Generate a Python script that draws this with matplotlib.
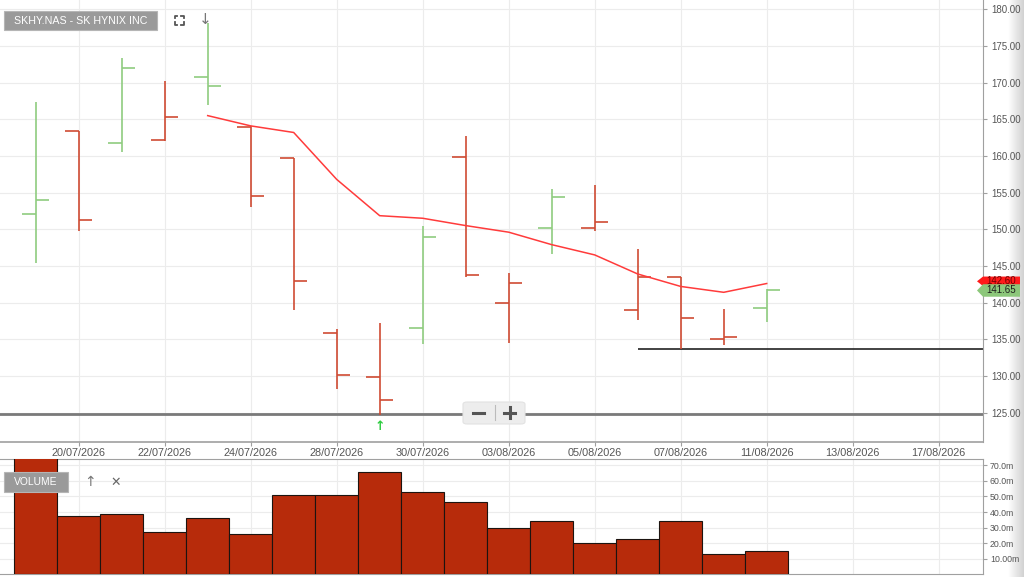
import matplotlib
matplotlib.use("Agg")
import matplotlib.pyplot as plt
from matplotlib.patches import Polygon, FancyBboxPatch
from matplotlib.lines import Line2D
import matplotlib.transforms as mtransforms
import numpy as np

plt.rcParams['font.family'] = ['Liberation Sans', 'DejaVu Sans']

# ---- data ----
dates = ["17/07/2026", "20/07/2026", "21/07/2026", "22/07/2026", "23/07/2026", "24/07/2026",
         "27/07/2026", "28/07/2026", "29/07/2026", "30/07/2026", "31/07/2026", "03/08/2026",
         "04/08/2026", "05/08/2026", "06/08/2026", "07/08/2026", "10/08/2026", "11/08/2026",
         "12/08/2026", "13/08/2026", "14/08/2026", "17/08/2026"]
opens  = [152.1, 163.45, 161.8, 162.2, 170.8, 163.95, 159.7, 135.9, 129.9, 136.5, 159.9, 139.9,
          150.2, 150.2, 139.0, 143.5, 135.0, 139.2]
highs  = [167.4, 163.45, 173.3, 170.2, 178.1, 164.1, 159.7, 136.4, 137.2, 150.4, 162.7, 144.1,
          155.5, 156.0, 147.3, 143.5, 139.1, 141.8]
lows   = [145.45, 149.8, 160.5, 162.0, 167.0, 153.0, 138.95, 128.2, 124.7, 134.4, 143.45, 134.45,
          146.6, 149.8, 137.6, 133.7, 134.2, 137.3]
closes = [154.0, 151.2, 172.0, 165.3, 169.5, 154.5, 143.0, 130.1, 126.7, 149.0, 143.7, 142.7,
          154.4, 151.0, 143.5, 137.9, 135.3, 141.65]
up_flags = [1, 0, 1, 0, 1, 0, 0, 0, 0, 1, 0, 0, 1, 0, 0, 0, 0, 1]
ma_start = 4
ma_values = [165.5, 164.1, 163.2, 156.8, 151.85, 151.5, 150.5, 149.6, 147.9, 146.5, 143.9,
             142.2, 141.4, 142.6]
volumes = [76.0, 37.4, 38.7, 27.1, 36.3, 25.9, 50.7, 50.7, 65.9, 52.7, 46.4, 29.5, 34.2,
           20.1, 22.6, 34.2, 13.2, 14.9]
support_level = 133.65
support_start = 14
low_level = 124.75
price_ticks = [125, 130, 135, 140, 145, 150, 155, 160, 165, 170, 175, 180]
vol_ticks = [10, 20, 30, 40, 50, 60, 70]
vol_tick_labels = ["10.00m", "20.0m", "30.0m", "40.0m", "50.0m", "60.0m", "70.0m"]
date_tick_idx = [1, 3, 5, 7, 9, 11, 13, 15, 17, 19, 21]
last_price = 141.65
last_ma = 142.6
signal_idx = 8

W, H = 1024, 577
fig = plt.figure(figsize=(W / 100, H / 100), dpi=100)

def fx(x):
    return x / W

def fy(y):
    return 1 - y / H

GRID = '#ececec'
AXC = '#a0a0a0'
TXT = '#555555'
RED = '#cf4b33'
GREEN = '#8fcc7f'

# ---- price axes ----
ax = fig.add_axes([0, fy(441.5), fx(983), 441.5 / H])
n = len(opens)
x = np.arange(n)
xlim = (-0.83, 22.03)
ax.set_xlim(*xlim)
ax.set_ylim(121.05, 181.27)

colors = [GREEN if u else RED for u in up_flags]
tk = 0.32
ax.vlines(x, lows, highs, colors=colors, lw=1.2, zorder=3)
ax.hlines(opens, x - tk, x, colors=colors, lw=1.2, zorder=3)
ax.hlines(closes, x, x + tk, colors=colors, lw=1.2, zorder=3)

ma_x = np.arange(ma_start, ma_start + len(ma_values))
ax.plot(ma_x, ma_values, color='#ff3b3b', lw=1.1, zorder=4)

ax.hlines(support_level, support_start, xlim[1], colors='#222222', lw=1.2, zorder=2)
ax.axhline(low_level, color='#7a7a7a', lw=2.0, zorder=2)

ax.text(signal_idx, 123.05, "↑", ha='center', va='center', fontsize=9, fontweight='bold',
        color='#2ecc40', family='DejaVu Sans', zorder=5)

ax.set_yticks(price_ticks)
ax.set_yticklabels([f"{v:.2f}" for v in price_ticks])
ax.yaxis.tick_right()
ax.set_xticks(date_tick_idx)
ax.set_xticklabels([dates[i] for i in date_tick_idx])
ax.tick_params(axis='y', colors=AXC, labelcolor=TXT, labelsize=7, length=3, pad=3)
ax.tick_params(axis='x', colors=AXC, labelcolor=TXT, labelsize=7.8, length=3, pad=1.5)
ax.grid(True, color=GRID, lw=0.8, zorder=0)
for s in ['top', 'left']:
    ax.spines[s].set_visible(False)
ax.spines['right'].set_color(AXC)
ax.spines['bottom'].set_color(AXC)
ax.spines['bottom'].set_linewidth(1.2)

# price tags
bt = mtransforms.blended_transform_factory(ax.transAxes, ax.transData)
pxu = 1 / 983.0
ypx = 1 / 7.333
def tag(val, h, color, text, tcolor, z):
    l = 1 - 6 * pxu
    r = 1 + 37 * pxu
    m = 1 + 0 * pxu
    pts = [(l, val), (m, val + h / 2), (r, val + h / 2), (r, val - h / 2), (m, val - h / 2)]
    p = Polygon(pts, closed=True, transform=bt, facecolor=color, edgecolor='none',
                clip_on=False, zorder=z)
    ax.add_patch(p)
    ax.text(1 + 18 * pxu, val, text, transform=bt, ha='center', va='center',
            fontsize=7, color=tcolor, clip_on=False, zorder=z + 0.5)

tag(last_ma + 0.3, 9.5 * ypx, '#ff1a1a', f"{last_ma:.2f}", '#700000', 10)
tag(last_price, 12.5 * ypx, '#8cc77a', f"{last_price:.2f}", '#1e1e1e', 12)

# ---- volume axes ----
ax2 = fig.add_axes([0, fy(574.2), fx(983), (574.2 - 459.3) / H])
ax2.set_xlim(*xlim)
ax2.set_ylim(0, 73.9)
ax2.bar(x, volumes, width=1.0, color='#b72b0b', edgecolor='#1c1410', lw=0.8, zorder=3)
ax2.set_yticks(vol_ticks)
ax2.set_yticklabels(vol_tick_labels)
ax2.yaxis.tick_right()
ax2.set_xticks(date_tick_idx)
ax2.tick_params(axis='x', length=0, labelbottom=False)
ax2.tick_params(axis='y', colors=AXC, labelcolor=TXT, labelsize=6.3, length=3, pad=2)
ax2.grid(True, color=GRID, lw=0.8, zorder=0)
ax2.spines['left'].set_visible(False)
for s in ['top', 'right', 'bottom']:
    ax2.spines[s].set_color(AXC)

# ---- right gradient ----
gax = fig.add_axes([fx(1008), 0, fx(16), 1], zorder=-1)
grad = np.linspace(1.0, 0.82, 64).reshape(1, -1)
gax.imshow(grad, aspect='auto', cmap='gray', vmin=0, vmax=1, extent=(0, 1, 0, 1))
gax.axis('off')

# ---- overlays ----
def label_box(x0, y0, x1, y1, text, fs):
    fig.patches.append(FancyBboxPatch((fx(x0), fy(y1)), fx(x1 - x0), (y1 - y0) / H,
                                      boxstyle='square,pad=0', transform=fig.transFigure,
                                      facecolor='#9a9a9a', edgecolor='#b5b5b5', lw=0.8,
                                      zorder=20))
    fig.text(fx((x0 + x1) / 2), fy((y0 + y1) / 2), text, ha='center', va='center',
             fontsize=fs, color='white', zorder=21)

label_box(4, 11, 157, 30, "SKHY.NAS - SK HYNIX INC", 7.7)
label_box(4, 472, 68, 492, "VOLUME", 7.4)

# expand icon
cx, cy, s, c = 179, 20, 4.5, 2.2
for sx in (-1, 1):
    for sy in (-1, 1):
        xs = [cx + sx * s, cx + sx * s, cx + sx * (s - c)]
        ys = [cy + sy * (s - c), cy + sy * s, cy + sy * s]
        fig.lines.append(Line2D([fx(v) for v in xs], [fy(v) for v in ys],
                                transform=fig.transFigure, color='#555555', lw=1.3))
fig.text(fx(205), fy(20), "↓", ha='center', va='center', fontsize=11, color='#777777',
         family='DejaVu Sans')
fig.text(fx(90), fy(482), "↑", ha='center', va='center', fontsize=10, color='#777777',
         family='DejaVu Sans')
fig.text(fx(116), fy(482), "✕", ha='center', va='center', fontsize=9, color='#666666',
         family='DejaVu Sans')

# zoom control
fig.patches.append(FancyBboxPatch((fx(463), fy(424)), fx(62), 22 / H,
                                  boxstyle='round,pad=0,rounding_size=0.004',
                                  transform=fig.transFigure, facecolor='#ededed',
                                  edgecolor='#e2e2e2', lw=0.8, zorder=20))
fig.lines.append(Line2D([fx(495), fx(495)], [fy(405), fy(420)], transform=fig.transFigure,
                        color='#bbbbbb', lw=0.8, zorder=21))
fig.lines.append(Line2D([fx(473), fx(484)], [fy(412.5), fy(412.5)], transform=fig.transFigure,
                        color='#555555', lw=2.2, zorder=21))
fig.lines.append(Line2D([fx(504), fx(515)], [fy(412.5), fy(412.5)], transform=fig.transFigure,
                        color='#555555', lw=2.2, zorder=21))
fig.lines.append(Line2D([fx(509.5), fx(509.5)], [fy(407), fy(418)], transform=fig.transFigure,
                        color='#555555', lw=2.2, zorder=21))

fig.savefig("out.png", dpi=100, facecolor='white')
